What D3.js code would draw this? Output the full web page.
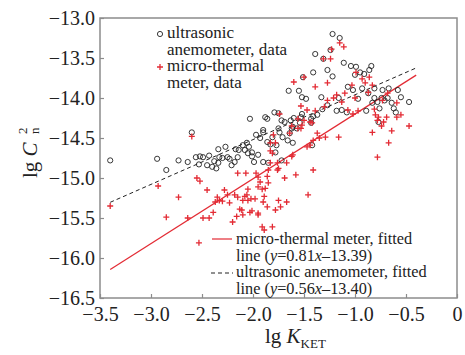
<!DOCTYPE html>
<html>
<head>
<meta charset="utf-8">
<script src="https://cdn.jsdelivr.net/npm/d3@7"></script>
<style>
  body { margin: 0; background: #fff; }
  svg { display: block; }
  svg text { font-family: "Liberation Serif", "DejaVu Serif", "Times New Roman", Times, serif; }
</style>
</head>
<body>
<div id="chart"></div>
<script>
// lg K_KET vs lg Cn2
const ultrasonicData = [
  [-3.40,-14.78],[-2.94,-14.76],[-2.85,-14.90],[-2.73,-14.78],[-2.64,-14.80],[-2.60,-14.43],[-2.56,-14.74],
  [-2.53,-14.83],[-2.52,-14.73],[-2.49,-14.74],[-2.45,-14.84],[-2.43,-14.72],[-2.40,-14.86],[-2.38,-14.79],
  [-2.36,-14.88],[-2.34,-14.64],[-2.33,-14.74],[-2.30,-14.75],[-2.27,-14.61],[-2.34,-14.81],[-2.25,-14.74],
  [-2.23,-14.76],[-2.21,-14.84],[-2.18,-14.80],[-2.17,-14.64],[-2.14,-14.65],[-2.15,-14.74],[-2.10,-14.59],
  [-2.08,-14.65],[-2.06,-14.56],[-2.05,-14.69],[-2.04,-14.61],[-2.01,-14.68],[-2.01,-14.73],[-1.99,-14.80],
  [-1.95,-14.71],[-1.97,-14.46],[-1.93,-14.50],[-1.90,-14.43],[-1.90,-14.80],[-1.86,-14.55],[-1.85,-14.81],
  [-1.83,-14.58],[-1.81,-14.49],[-1.78,-14.68],[-1.77,-14.59],[-1.74,-14.43],[-1.72,-14.78],[-1.71,-14.49],
  [-1.66,-14.53],[-1.64,-14.44],[-1.62,-14.38],[-1.61,-14.56],[-1.57,-14.38],[-1.54,-14.31],[-1.42,-14.59],
  [-1.43,-14.31],[-1.39,-13.45],[-1.31,-13.51],[-1.41,-13.68],[-1.27,-13.65],[-1.51,-13.74],[-1.65,-13.91],
  [-1.55,-13.91],[-1.52,-13.99],[-1.48,-14.01],[-1.33,-13.99],[-2.03,-14.26],[-1.88,-14.24],[-1.86,-14.26],
  [-1.79,-14.18],[-1.75,-14.19],[-1.72,-14.28],[-1.69,-14.30],[-1.63,-14.28],[-1.60,-14.25],[-1.53,-14.24],
  [-1.52,-14.20],[-1.43,-14.26],[-1.41,-14.23],[-1.37,-14.21],[-1.32,-14.14],[-1.27,-14.09],[-1.90,-14.40],
  [-1.75,-14.38],[-1.61,-14.36],[-1.22,-13.20],[-1.15,-13.25],[-1.24,-13.40],[-1.22,-13.73],[-1.11,-13.56],
  [-1.04,-13.60],[-0.99,-13.61],[-0.95,-13.68],[-0.91,-13.70],[-0.86,-13.65],[-0.84,-13.60],[-1.00,-13.71],
  [-1.07,-13.86],[-1.02,-13.90],[-0.93,-13.88],[-0.87,-13.94],[-0.81,-13.88],[-0.73,-13.90],[-0.67,-13.88],
  [-0.58,-13.90],[-1.16,-14.00],[-0.97,-14.01],[-0.81,-14.00],[-0.78,-14.05],[-0.74,-14.00],[-0.71,-14.03],
  [-0.68,-14.00],[-0.64,-14.06],[-0.55,-13.99],[-0.47,-14.05],[-0.83,-14.06],[-0.76,-14.13],[-0.62,-14.13],
  [-0.60,-14.18],[-1.18,-14.16],[-1.13,-14.15],[-1.08,-14.18],[-0.89,-14.16],[-0.77,-14.30]
];

const thermalData = [
  [-3.40,-15.35],[-2.93,-15.10],[-2.60,-14.48],[-2.73,-15.24],[-2.85,-15.49],[-2.64,-15.50],[-2.55,-15.00],
  [-2.52,-15.04],[-2.45,-15.15],[-2.49,-15.50],[-2.43,-15.50],[-2.39,-15.43],[-2.37,-15.30],[-2.35,-15.24],
  [-2.33,-15.28],[-2.30,-15.29],[-2.28,-15.15],[-2.53,-15.81],[-2.25,-15.21],[-2.23,-15.31],[-2.20,-15.55],
  [-2.16,-15.48],[-2.15,-15.24],[-2.15,-14.94],[-2.11,-15.40],[-2.10,-15.28],[-2.07,-14.94],[-2.06,-15.21],
  [-2.05,-15.14],[-2.03,-15.43],[-2.02,-15.26],[-1.97,-14.94],[-1.95,-15.44],[-1.91,-15.61],[-1.89,-15.65],
  [-1.88,-15.13],[-1.86,-15.36],[-1.85,-15.06],[-1.81,-15.61],[-1.78,-15.40],[-1.73,-15.36],[-1.69,-15.00],
  [-1.67,-15.30],[-1.75,-14.88],[-1.83,-14.66],[-1.76,-14.81],[-1.67,-14.81],[-1.62,-14.73],[-1.58,-14.96],
  [-1.46,-15.21],[-1.41,-14.90],[-1.47,-14.61],[-1.95,-14.99],[-1.93,-15.05],[-1.86,-14.98],[-1.85,-14.90],
  [-1.83,-14.81],[-1.80,-14.46],[-1.76,-14.90],[-1.61,-14.71],[-1.37,-14.44],[-1.29,-14.49],[-1.64,-14.44],
  [-1.56,-14.38],[-1.52,-14.34],[-1.44,-14.30],[-1.83,-14.56],[-1.78,-14.56],[-1.81,-14.69],[-2.18,-15.21],
  [-2.08,-15.23],[-2.05,-15.28],[-1.98,-15.26],[-1.95,-15.11],[-1.91,-15.14],[-1.89,-15.23],[-1.90,-15.30],
  [-1.75,-15.28],[-2.13,-15.39],[-2.10,-15.46],[-2.01,-15.41],[-1.95,-15.46],[-1.31,-13.51],[-1.60,-13.80],
  [-1.39,-13.86],[-1.27,-13.81],[-1.74,-14.20],[-1.53,-14.10],[-1.47,-14.15],[-1.39,-14.16],[-1.30,-14.11],
  [-1.27,-14.03],[-1.56,-14.26],[-1.50,-14.28],[-1.42,-14.31],[-1.62,-14.35],[-1.53,-14.38],[-1.50,-13.74],
  [-1.15,-13.31],[-1.11,-13.36],[-1.23,-13.39],[-1.24,-13.51],[-0.99,-13.68],[-0.93,-13.76],[-0.90,-13.81],
  [-0.86,-13.74],[-0.83,-13.84],[-0.87,-13.93],[-1.03,-13.84],[-1.10,-13.94],[-1.18,-13.96],[-1.21,-14.00],
  [-1.00,-14.00],[-1.13,-14.05],[-0.68,-13.94],[-0.59,-14.06],[-0.73,-14.03],[-1.07,-14.15],[-0.97,-14.16],
  [-0.81,-14.14],[-0.80,-14.21],[-0.77,-14.24],[-0.78,-14.28],[-0.69,-14.24],[-0.72,-14.30],[-0.74,-14.35],
  [-0.59,-14.24],[-0.55,-14.21],[-0.64,-14.41],[-0.47,-14.35],[-0.83,-14.43],[-1.02,-14.20],[-1.16,-14.49],
  [-0.67,-14.56],[-0.78,-14.74],[-1.35,-14.50],[-1.41,-14.53],[-1.44,-14.59]
];

// fitted lines: y = slope * x + intercept
const thermalFit = [0.81, -13.39];
const ultrasonicFit = [0.56, -13.40];
const fitRange = [-3.4, -0.4];

const xTicks = [-3.5, -3.0, -2.5, -2.0, -1.5, -1.0, -0.5, 0];
const yTicks = [-13.0, -13.5, -14.0, -14.5, -15.0, -15.5, -16.0, -16.5];

const RED = "#e32b34";
const AXIS = "#8c8c8c";

const width = 465, height = 355;
const margin = { top: 18, right: 8, bottom: 57, left: 100 };
const w = width - margin.left - margin.right;
const h = height - margin.top - margin.bottom;

const svg = d3.select("#chart").append("svg")
  .attr("width", width)
  .attr("height", height);

const g = svg.append("g")
  .attr("transform", "translate(" + margin.left + "," + margin.top + ")");

const x = d3.scaleLinear().domain([-3.5, 0]).range([0, w]);
const y = d3.scaleLinear().domain([-16.5, -13.0]).range([h, 0]);

const fmt = v => (v === 0 ? "0" : d3.format(".1f")(v).replace("-", "\u2212"));

// axes (ticks inward)
const xAxis = g.append("g")
  .attr("transform", "translate(0," + h + ")")
  .call(d3.axisBottom(x).tickValues(xTicks).tickSizeInner(-4).tickSizeOuter(0).tickPadding(9).tickFormat(fmt));

const yAxis = g.append("g")
  .call(d3.axisLeft(y).tickValues(yTicks).tickSizeInner(-4).tickSizeOuter(0).tickPadding(9).tickFormat(fmt));

[xAxis, yAxis].forEach(a => {
  a.attr("font-family", null).attr("font-size", null);
  a.selectAll(".domain").remove();
  a.selectAll(".tick line").attr("stroke", AXIS).attr("stroke-width", 1.2);
  a.selectAll(".tick text")
    .attr("fill", "#222")
    .style("font-size", "20px");
});
yAxis.selectAll(".tick text").attr("x", -5);

// frame
g.append("rect")
  .attr("width", w).attr("height", h)
  .attr("fill", "none")
  .attr("stroke", AXIS)
  .attr("stroke-width", 1.5);

// fitted lines
function fitLine(p) {
  return fitRange.map(v => [x(v), y(p[0] * v + p[1])]);
}
g.append("path")
  .attr("d", d3.line()(fitLine(thermalFit)))
  .attr("fill", "none").attr("stroke", RED).attr("stroke-width", 1.2);
g.append("path")
  .attr("d", d3.line()(fitLine(ultrasonicFit)))
  .attr("fill", "none").attr("stroke", "#222").attr("stroke-width", 1)
  .attr("stroke-dasharray", "4,3");

// points
g.selectAll(".circ")
  .data(ultrasonicData)
  .enter().append("circle")
  .attr("class", "circ")
  .attr("cx", d => x(d[0]))
  .attr("cy", d => y(d[1]))
  .attr("r", 2.6)
  .attr("fill", "none")
  .attr("stroke", "#222")
  .attr("stroke-width", 0.9);

function plusPath(s) {
  return "M" + (-s) + ",0H" + s + "M0," + (-s) + "V" + s;
}
g.selectAll(".plus")
  .data(thermalData)
  .enter().append("path")
  .attr("class", "plus")
  .attr("transform", d => "translate(" + x(d[0]) + "," + y(d[1]) + ")")
  .attr("d", plusPath(3))
  .attr("stroke", RED)
  .attr("stroke-width", 1.3);

// legend, top left
const leg = svg.append("g").style("font-size", "17px").attr("fill", "#222");
leg.append("circle").attr("cx", 160).attr("cy", 34).attr("r", 2.6)
  .attr("fill", "none").attr("stroke", "#222").attr("stroke-width", 0.9);
leg.append("path").attr("transform", "translate(160,67)").attr("d", plusPath(3))
  .attr("stroke", RED).attr("stroke-width", 1.3);
["ultrasonic", "anemometer, data", "micro-thermal", "meter, data"].forEach((t, i) => {
  leg.append("text").attr("x", 167).attr("y", 38 + i * 16.5).text(t);
});

// legend, bottom right
const leg2 = svg.append("g").style("font-size", "16.3px").attr("fill", "#222");
leg2.append("line").attr("x1", 212).attr("x2", 232).attr("y1", 239).attr("y2", 239)
  .attr("stroke", RED).attr("stroke-width", 1.2);
leg2.append("line").attr("x1", 211).attr("x2", 233).attr("y1", 273).attr("y2", 273)
  .attr("stroke", "#222").attr("stroke-width", 1).attr("stroke-dasharray", "4,3");
leg2.append("text").attr("x", 236).attr("y", 244).text("micro-thermal meter, fitted");
function fitLabel(yy, p) {
  const t = leg2.append("text").attr("x", 236).attr("y", yy);
  t.append("tspan").text("line (");
  t.append("tspan").style("font-style", "italic").text("y");
  t.append("tspan").text("=" + p[0].toFixed(2));
  t.append("tspan").style("font-style", "italic").text("x");
  t.append("tspan").text("\u2013" + Math.abs(p[1]).toFixed(2) + ")");
}
fitLabel(260.6, thermalFit);
leg2.append("text").attr("x", 236).attr("y", 277.3).text("ultrasonic anemometer, fitted");
fitLabel(294, ultrasonicFit);

// axis titles
const xt = svg.append("text").attr("x", 265).attr("y", 343)
  .style("font-size", "21px").attr("fill", "#222");
xt.append("tspan").text("lg ");
xt.append("tspan").style("font-style", "italic").text("K");
xt.append("tspan").attr("dy", 5).style("font-size", "13px").text("KET");

const yt = svg.append("g").attr("transform", "translate(37,148) rotate(-90)").attr("fill", "#222");
const ytl = yt.append("text").attr("x", -30).attr("y", 0).style("font-size", "21px");
ytl.append("tspan").text("lg ");
ytl.append("tspan").style("font-style", "italic").text("C");
yt.append("text").attr("x", 14).attr("y", -10).style("font-size", "13px").text("2");
yt.append("text").attr("x", 14).attr("y", 2).style("font-size", "13px").text("n");
</script>
</body>
</html>
